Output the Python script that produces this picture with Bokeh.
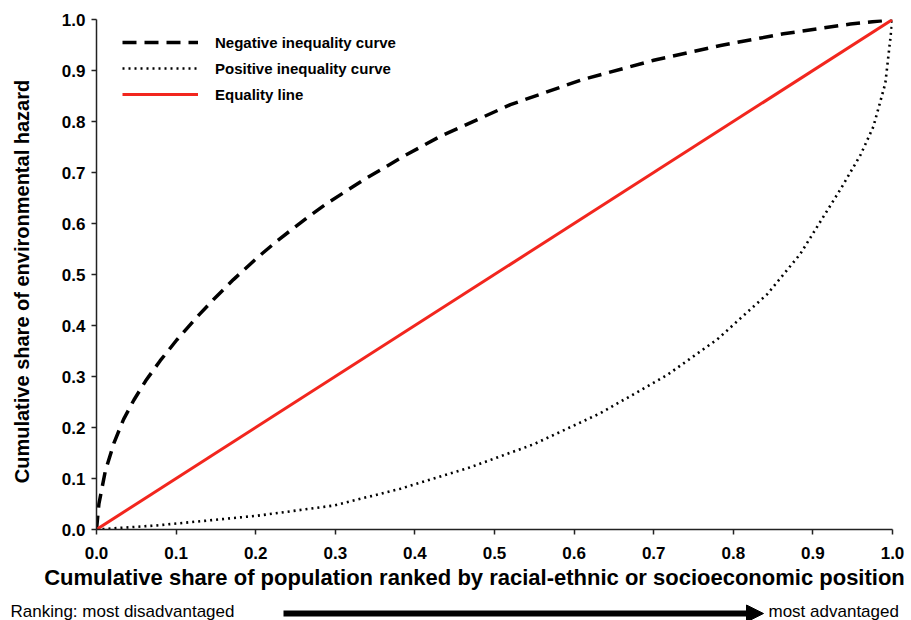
import math
from bokeh.plotting import figure
from bokeh.models import Range1d, Legend, LegendItem, FixedTicker, Arrow, NormalHead
from bokeh.layouts import column, row
from bokeh.core.properties import value
from bokeh.embed import file_html
from bokeh.resources import INLINE

# ---------------- data ----------------
x_negative = [0.0, 0.003, 0.011, 0.022, 0.034, 0.047, 0.062, 0.080, 0.101, 0.127, 0.147, 0.172,
              0.202, 0.227, 0.265, 0.290, 0.336, 0.386, 0.432, 0.520, 0.608, 0.700, 0.784,
              0.863, 0.947, 1.0]
y_negative = [0.0, 0.050, 0.114, 0.170, 0.216, 0.254, 0.292, 0.331, 0.372, 0.418, 0.451, 0.490,
              0.533, 0.566, 0.612, 0.640, 0.686, 0.732, 0.771, 0.833, 0.881, 0.920, 0.949,
              0.972, 0.991, 1.0]

x_positive = [0.0, 0.076, 0.202, 0.298, 0.382, 0.466, 0.549, 0.633, 0.717, 0.780, 0.843,
              0.884, 0.935, 0.960, 0.976, 0.991, 1.0]
y_positive = [0.0, 0.008, 0.027, 0.047, 0.080, 0.120, 0.167, 0.228, 0.303, 0.373, 0.462,
              0.540, 0.668, 0.735, 0.790, 0.875, 1.0]

x_equality = [0.0, 1.0]
y_equality = [0.0, 1.0]

tick_values = [0.0, 0.1, 0.2, 0.3, 0.4, 0.5, 0.6, 0.7, 0.8, 0.9, 1.0]
tick_labels = ["0.0", "0.1", "0.2", "0.3", "0.4", "0.5", "0.6", "0.7", "0.8", "0.9", "1.0"]

series_names = ["Negative inequality curve", "Positive inequality curve", "Equality line"]
y_title = "Cumulative share of environmental hazard"
x_title = "Cumulative share of population ranked by racial-ethnic or socioeconomic position"
rank_left = "Ranking: most disadvantaged"
rank_right = "most advantaged"

FONT = "Liberation Sans"
RED = "#f2261e"

# ---------------- main plot ----------------
p = figure(width=871, height=566, x_range=Range1d(0, 1), y_range=Range1d(0, 1),
           output_backend="svg", toolbar_location=None,
           min_border_left=56, min_border_right=19, min_border_top=19, min_border_bottom=37)
p.frame_align = False
p.outline_line_color = None
p.grid.visible = False
p.background_fill_color = "white"
p.border_fill_color = "white"

r_neg = p.line(x_negative, y_negative, line_color="black", line_width=3.5, line_dash="14 8")
r_pos = p.line(x_positive, y_positive, line_color="black", line_width=2.6, line_dash="2 4")
r_eq = p.line(x_equality, y_equality, line_color=RED, line_width=3)

overrides = {v: t for v, t in zip(tick_values, tick_labels)}
for ax in (p.xaxis[0], p.yaxis[0]):
    ax.ticker = FixedTicker(ticks=tick_values)
    ax.major_label_overrides = overrides
    ax.axis_line_color = "#222222"
    ax.axis_line_width = 1.5
    ax.major_tick_line_color = "#222222"
    ax.major_tick_line_width = 1.5
    ax.major_tick_in = 0
    ax.major_tick_out = 5
    ax.minor_tick_line_color = None
    ax.major_label_text_font = FONT
    ax.major_label_text_font_style = "bold"
    ax.major_label_text_font_size = "17px"
    ax.major_label_text_color = "black"

p.yaxis[0].major_label_standoff = 6
p.xaxis[0].major_label_standoff = 12

legend = Legend(items=[LegendItem(label=series_names[0], renderers=[r_neg]),
                       LegendItem(label=series_names[1], renderers=[r_pos]),
                       LegendItem(label=series_names[2], renderers=[r_eq])],
                location=(26, 422), padding=0, margin=0, spacing=0,
                glyph_width=76, glyph_height=26, label_height=26, label_standoff=17,
                border_line_color=None, background_fill_alpha=0,
                label_text_font=FONT, label_text_font_style="bold",
                label_text_font_size="15px", label_text_color="black",
                label_text_baseline="middle")
p.add_layout(legend)

# ---------------- left strip: y-axis title ----------------
lft = figure(width=40, height=566, x_range=Range1d(0, 40), y_range=Range1d(566, 0),
             output_backend="svg", toolbar_location=None, min_border=0,
             min_border_left=0, min_border_right=0, min_border_top=0, min_border_bottom=0,
             x_axis_location=None, y_axis_location=None)
lft.frame_align = False
lft.outline_line_color = None
lft.grid.visible = False
lft.text(x=[21], y=[281], text=[y_title], angle=math.pi / 2, text_font=value(FONT),
         text_font_style="bold", text_font_size=value("20px"), text_align="center",
         text_baseline="middle", text_color="black")

# ---------------- bottom strip: axis title and ranking arrow ----------------
s = figure(width=911, height=54, x_range=Range1d(0, 911), y_range=Range1d(620, 566),
           output_backend="svg", toolbar_location=None, min_border=0,
           min_border_left=0, min_border_right=0, min_border_top=0, min_border_bottom=0,
           x_axis_location=None, y_axis_location=None)
s.frame_align = False
s.outline_line_color = None
s.grid.visible = False

s.text(x=[474], y=[577], text=[x_title], text_font=value(FONT), text_font_style="bold",
       text_font_size=value("22px"), text_align="center", text_baseline="middle",
       text_color="black")
s.text(x=[10, 768], y=[611, 611], text=[rank_left, rank_right], text_font=value(FONT),
       text_font_size=value("17px"), text_align="left", text_baseline="middle",
       text_color="black")
s.add_layout(Arrow(end=NormalHead(size=17, fill_color="black", line_color="black"),
                   x_start=283, y_start=613, x_end=763, y_end=613,
                   line_width=6, line_color="black"))

layout = column(row(lft, p), s)
open("out.html", "w").write(file_html(layout, INLINE))
